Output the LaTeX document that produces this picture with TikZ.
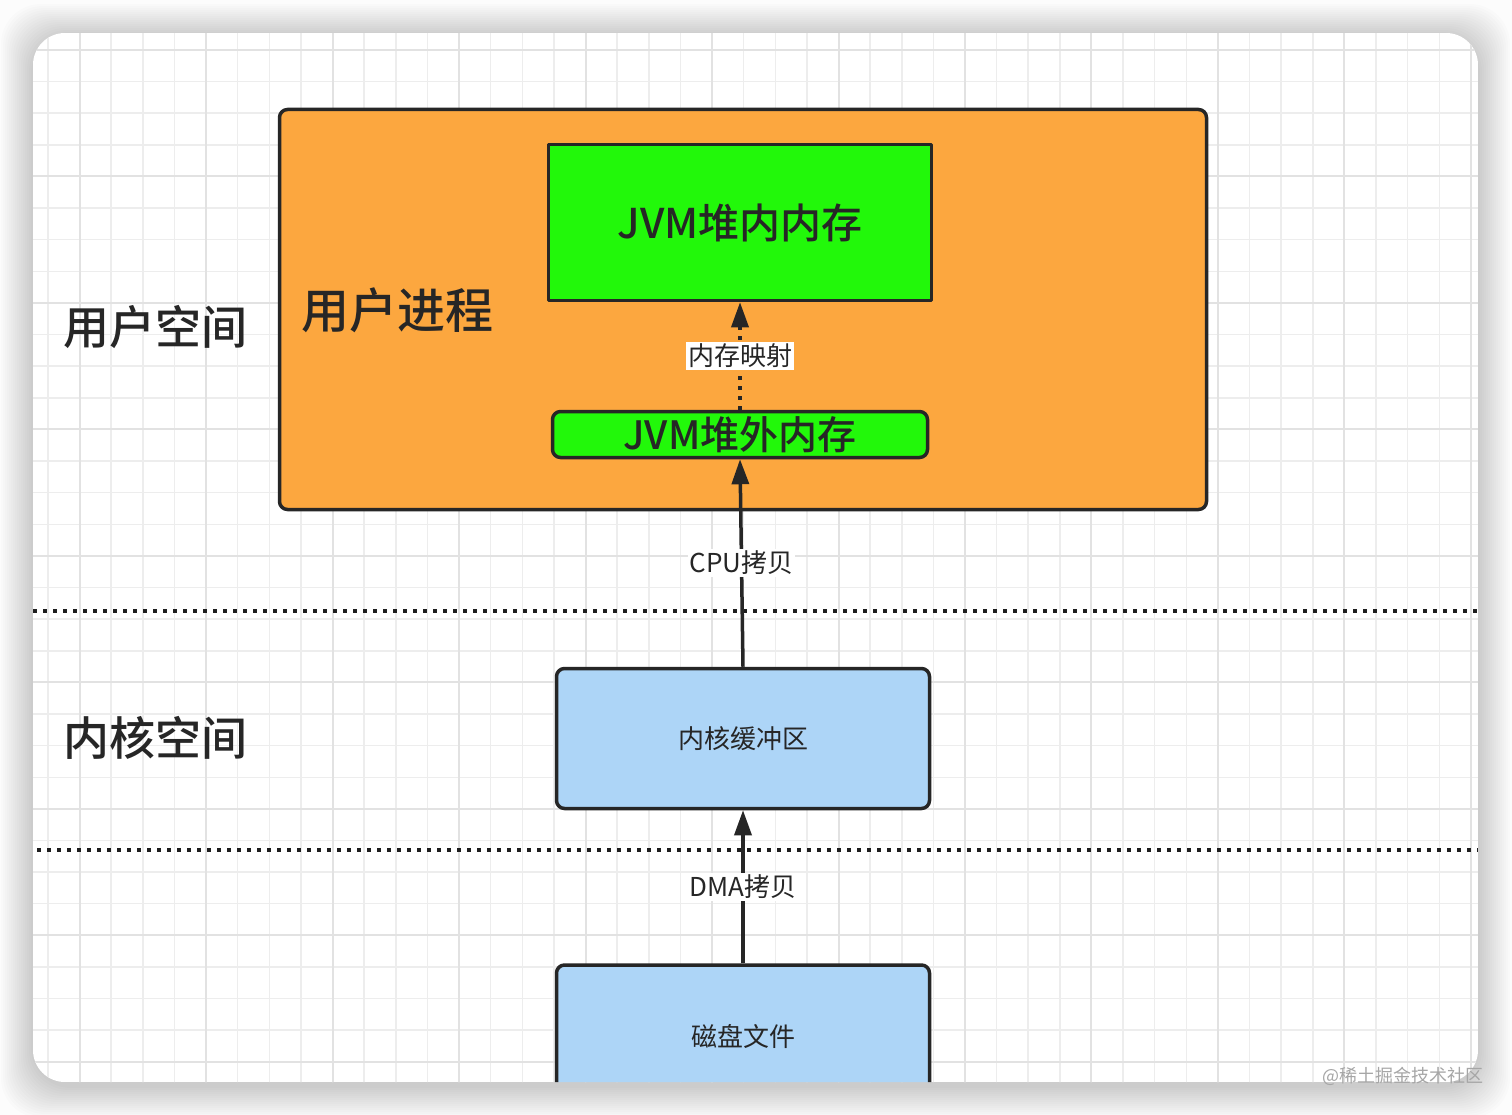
\documentclass[tikz,border=0pt]{standalone}
\usepackage{fontspec}
\usetikzlibrary{arrows.meta}
\newfontfamily\cjk{Noto Sans CJK SC}
\newfontfamily\cjkmid{Noto Sans CJK SC Medium}
\definecolor{procorange}{RGB}{252,167,63}
\definecolor{heapgreen}{RGB}{34,248,10}
\definecolor{kernblue}{RGB}{173,213,247}
\definecolor{inkdark}{RGB}{38,38,38}
\definecolor{gridminor}{RGB}{237,237,237}
\definecolor{gridmajor}{RGB}{226,226,226}

\begin{document}
\begin{tikzpicture}[x=1pt,y=-1pt,line join=round,
    font=\cjk,text=inkdark,
    box/.style={draw=inkdark,line width=3.5pt,inner sep=0pt,
                rounded corners=8pt},
    lbl/.style={fill=white,inner sep=2pt,
                font=\cjk\fontsize{26}{30}\selectfont},
    arr/.style={draw=inkdark,line width=3.5pt,
                -{Triangle[length=25pt,width=17pt]}},
    sepline/.style={inkdark!80!black,line width=4pt,line cap=butt,
                    dash pattern=on 4pt off 6pt}]
  \useasboundingbox (0,0) rectangle (1512,1115);
  \fill[white!99!black] (0,0) rectangle (1512,1115);
  % 卡片阴影
  \foreach \s in {1,...,16}
    \fill[black,opacity=.012,rounded corners=40pt]
         (33-2*\s,36-2*\s) rectangle (1478+2*\s,1086+2*\s);
  \begin{scope}
    \clip[rounded corners=32pt] (33,33) rectangle (1478,1082);
    \fill[white] (33,33) rectangle (1478,1082);
    % 网格
    \foreach \k in {0,...,45}
      \draw[gridminor,line width=1.5pt] (48+31.62*\k,33) -- ++(0,1050);
    \foreach \k in {0,...,33}
      \draw[gridminor,line width=1.5pt] (33,50+31.62*\k) -- ++(1445,0);
    \foreach \k in {1,5,...,45}
      \draw[gridmajor,line width=2pt] (48+31.62*\k,33) -- ++(0,1050);
    \foreach \k in {0,4,...,32}
      \draw[gridmajor,line width=2pt] (33,50+31.62*\k) -- ++(1445,0);
    % 空间分界
    \draw[sepline] (33,611) -- (1478,611);
    \draw[sepline] (37,850) -- (1478,850);
    \node[font=\cjkmid\fontsize{46}{54}\selectfont] (uspace)
         at (155,327) {用户空间};
    \node[font=\cjkmid\fontsize{46}{54}\selectfont] (kspace)
         at (155,738) {内核空间};
    % 用户进程
    \node[box,fill=procorange,minimum width=927pt,minimum height=400pt]
         (proc) at (743,309.5) {};
    \node[font=\cjkmid\fontsize{48}{56}\selectfont] (procname)
         at (397,310) {用户进程};
    \node[box,sharp corners,fill=heapgreen,minimum width=383pt,
          minimum height=156pt,font=\cjkmid\fontsize{41}{48}\selectfont]
         (heapin) at (740,222.5) {JVM堆内内存};
    \node[box,fill=heapgreen,minimum width=375pt,minimum height=46pt,
          font=\cjkmid\fontsize{39}{44}\selectfont]
         (heapout) at (740,434.5) {JVM堆外内存};
    % 内核与磁盘
    \node[box,fill=kernblue,minimum width=373pt,minimum height=140pt,
          font=\cjk\fontsize{26}{30}\selectfont]
         (kbuf) at (743,738.5) {内核缓冲区};
    \node[box,fill=kernblue,minimum width=373pt,minimum height=142pt,
          font=\cjk\fontsize{26}{30}\selectfont]
         (disk) at (743,1036) {磁盘文件};
    % 拷贝路径
    \draw[arr,line cap=butt,dash pattern=on 4pt off 6pt]
         (heapout.north) -- (heapin.south)
         node[midway,lbl] {内存映射};
    \draw[arr] (kbuf.north) -- (heapout.south)
         node[midway,lbl] {CPU拷贝};
    \draw[arr] (disk.north) -- (kbuf.south)
         node[midway,lbl] {DMA拷贝};
  \end{scope}
  \node[text=gray!70,font=\cjk\fontsize{18}{20}\selectfont] (mark)
       at (1403,1076) {@稀土掘金技术社区};
\end{tikzpicture}
\end{document}
